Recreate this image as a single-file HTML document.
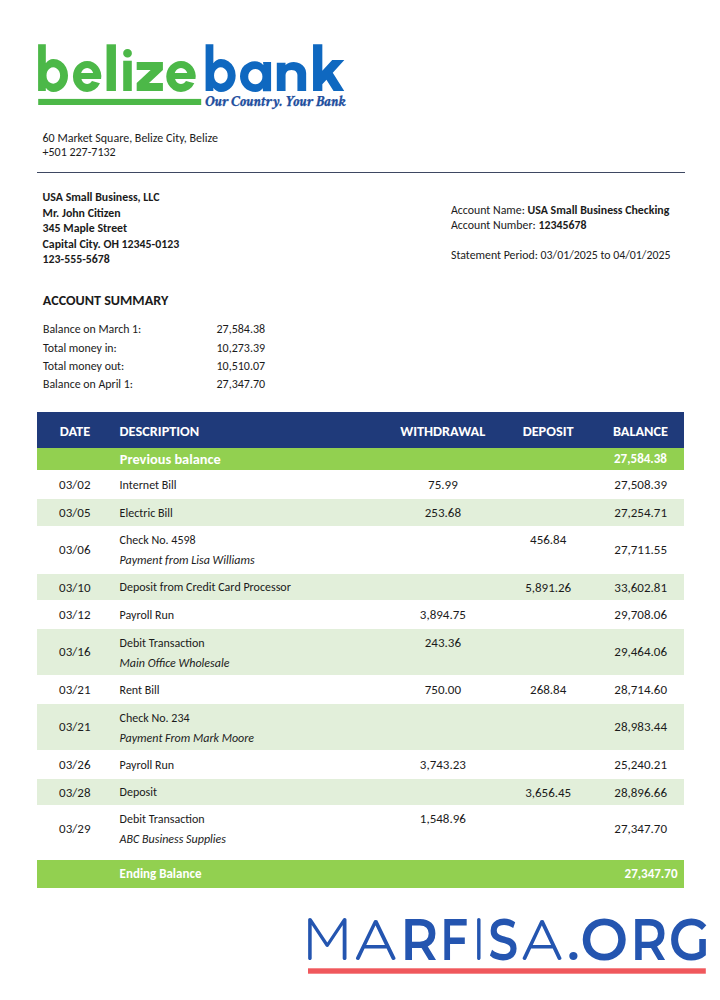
<!DOCTYPE html>
<html><head><meta charset="utf-8"><title>Belize Bank Statement</title>
<style>
html,body{margin:0;padding:0;background:#fff;}
body{width:720px;height:1000px;position:relative;overflow:hidden;font-family:"Carlito", "Liberation Sans", sans-serif;color:#1b1b1b;}
.r{position:absolute;}
.abs{position:absolute;}
</style></head><body>
<div class="r" style="left:36.5px;top:171.6px;width:648px;height:1.6px;background:#3e4862"></div>
<div class="r" style="left:37px;top:412px;width:647px;height:36px;background:#1f3a7a"></div>
<div class="r" style="left:37px;top:448px;width:647px;height:22px;background:#92d050"></div>
<div class="r" style="left:37px;top:499px;width:647px;height:27px;background:#e2efda"></div>
<div class="r" style="left:37px;top:574px;width:647px;height:26px;background:#e2efda"></div>
<div class="r" style="left:37px;top:629px;width:647px;height:46px;background:#e2efda"></div>
<div class="r" style="left:37px;top:704px;width:647px;height:46px;background:#e2efda"></div>
<div class="r" style="left:37px;top:779px;width:647px;height:26px;background:#e2efda"></div>
<div class="r" style="left:37px;top:860px;width:647px;height:27.5px;background:#92d050"></div>
<svg class="abs" width="720" height="1000" viewBox="0 0 720 1000" style="left:0;top:0">
<text fill="#4cb848"><tspan x="34.75" y="91.07" font-family="Urbanist, 'Liberation Sans', sans-serif" font-weight="800" font-size="61.96" textLength="34.96" lengthAdjust="spacingAndGlyphs">b</tspan><tspan x="71.20" y="91.13" font-family="Urbanist, 'Liberation Sans', sans-serif" font-weight="800" font-size="58.02" textLength="31.75" lengthAdjust="spacingAndGlyphs">e</tspan><tspan x="102.43" y="91.00" font-family="Urbanist, 'Liberation Sans', sans-serif" font-weight="800" font-size="61.46" textLength="17.51" lengthAdjust="spacingAndGlyphs">l</tspan><tspan x="119.49" y="91.00" font-family="Urbanist, 'Liberation Sans', sans-serif" font-weight="800" font-size="60.57" textLength="16.02" lengthAdjust="spacingAndGlyphs">i</tspan><tspan x="134.34" y="90.90" font-family="Urbanist, 'Liberation Sans', sans-serif" font-weight="800" font-size="57.40" textLength="31.13" lengthAdjust="spacingAndGlyphs">z</tspan><tspan x="164.64" y="91.13" font-family="Urbanist, 'Liberation Sans', sans-serif" font-weight="800" font-size="58.02" textLength="32.93" lengthAdjust="spacingAndGlyphs">e</tspan></text>
<text fill="#0f68c0"><tspan x="202.24" y="90.68" font-family="Urbanist, 'Liberation Sans', sans-serif" font-weight="800" font-size="61.31" textLength="35.08" lengthAdjust="spacingAndGlyphs">b</tspan><tspan x="238.26" y="91.14" font-family="Urbanist, 'Liberation Sans', sans-serif" font-weight="800" font-size="57.17" textLength="35.17" lengthAdjust="spacingAndGlyphs">a</tspan><tspan x="272.91" y="91.10" font-family="Urbanist, 'Liberation Sans', sans-serif" font-weight="800" font-size="57.09" textLength="35.69" lengthAdjust="spacingAndGlyphs">n</tspan><tspan x="309.06" y="91.10" font-family="Urbanist, 'Liberation Sans', sans-serif" font-weight="800" font-size="61.46" textLength="36.96" lengthAdjust="spacingAndGlyphs">k</tspan></text>
<rect x="38.2" y="98.9" width="163" height="6.1" fill="#4cb848"/>
<text x="205.0" y="106" font-family="Crimson Text, Liberation Serif, serif" font-weight="700" font-style="italic" font-size="16" fill="#1f4f9e" stroke="#1f4f9e" stroke-width="0.25" textLength="140.5" lengthAdjust="spacingAndGlyphs">Our Country. Your Bank</text>
<text fill="#2455b0"><tspan x="302.60" y="960.30" font-family="Quicksand, 'Liberation Sans', sans-serif" font-weight="450" font-size="58.30" textLength="49.62" lengthAdjust="spacingAndGlyphs">M</tspan><tspan x="354.12" y="960.30" font-family="Quicksand, 'Liberation Sans', sans-serif" font-weight="450" font-size="57.89" textLength="43.50" lengthAdjust="spacingAndGlyphs">A</tspan><tspan x="400.38" y="960.30" font-family="Montserrat, 'Liberation Sans', sans-serif" font-weight="630" font-size="58.71" textLength="37.53" lengthAdjust="spacingAndGlyphs">R</tspan><tspan x="440.27" y="960.30" font-family="Montserrat, 'Liberation Sans', sans-serif" font-weight="630" font-size="58.30" textLength="27.83" lengthAdjust="spacingAndGlyphs">F</tspan><tspan x="472.11" y="960.30" font-family="Quicksand, 'Liberation Sans', sans-serif" font-weight="450" font-size="58.30" textLength="13.58" lengthAdjust="spacingAndGlyphs">I</tspan><tspan x="488.33" y="960.41" font-family="Montserrat, 'Liberation Sans', sans-serif" font-weight="630" font-size="59.03" textLength="29.99" lengthAdjust="spacingAndGlyphs">S</tspan><tspan x="520.85" y="960.30" font-family="Quicksand, 'Liberation Sans', sans-serif" font-weight="450" font-size="57.89" textLength="42.63" lengthAdjust="spacingAndGlyphs">A</tspan><tspan x="567.19" y="960.06" font-family="Montserrat, 'Liberation Sans', sans-serif" font-weight="630" font-size="48.82" textLength="12.28" lengthAdjust="spacingAndGlyphs">.</tspan><tspan x="580.22" y="960.41" font-family="Montserrat, 'Liberation Sans', sans-serif" font-weight="630" font-size="59.03" textLength="47.97" lengthAdjust="spacingAndGlyphs">O</tspan><tspan x="630.50" y="960.30" font-family="Montserrat, 'Liberation Sans', sans-serif" font-weight="630" font-size="58.71" textLength="36.55" lengthAdjust="spacingAndGlyphs">R</tspan><tspan x="668.66" y="960.41" font-family="Montserrat, 'Liberation Sans', sans-serif" font-weight="630" font-size="59.03" textLength="41.21" lengthAdjust="spacingAndGlyphs">G</tspan></text>
<rect x="308" y="968.3" width="397.8" height="5.4" fill="#f0585c"/>
</svg>
<svg class="abs" width="720" height="1000" viewBox="0 0 720 1000" style="left:0;top:0" font-family='Carlito, "Liberation Sans", sans-serif' fill="#1b1b1b">
<text x="42.50" y="142" font-size="12" textLength="175.42" lengthAdjust="spacingAndGlyphs">60 Market Square, Belize City, Belize</text>
<text x="42.50" y="156" font-size="12" textLength="73.19" lengthAdjust="spacingAndGlyphs">+501 227-7132</text>
<text x="42.60" y="201" font-size="11.85" font-weight="700" textLength="116.89" lengthAdjust="spacingAndGlyphs">USA Small Business, LLC</text>
<text x="42.60" y="217" font-size="11.85" font-weight="700" textLength="77.97" lengthAdjust="spacingAndGlyphs">Mr. John Citizen</text>
<text x="42.60" y="232" font-size="11.85" font-weight="700" textLength="84.53" lengthAdjust="spacingAndGlyphs">345 Maple Street</text>
<text x="42.60" y="248" font-size="11.85" font-weight="700" textLength="136.62" lengthAdjust="spacingAndGlyphs">Capital City. OH 12345-0123</text>
<text x="42.60" y="263" font-size="11.85" font-weight="700" textLength="67.28" lengthAdjust="spacingAndGlyphs">123-555-5678</text>
<text x="451.00" y="214" font-size="11.85" textLength="218.33" lengthAdjust="spacingAndGlyphs">Account Name: <tspan font-weight="700">USA Small Business Checking</tspan></text>
<text x="451.00" y="229" font-size="11.85" textLength="135.45" lengthAdjust="spacingAndGlyphs">Account Number: <tspan font-weight="700">12345678</tspan></text>
<text x="451.00" y="259" font-size="11.85" textLength="219.41" lengthAdjust="spacingAndGlyphs">Statement Period: 03/01/2025 to 04/01/2025</text>
<text x="42.80" y="305" font-size="14.1" font-weight="700" textLength="125.41" lengthAdjust="spacingAndGlyphs">ACCOUNT SUMMARY</text>
<text x="43.00" y="333" font-size="11.85" textLength="98.30" lengthAdjust="spacingAndGlyphs">Balance on March 1:</text>
<text x="216.50" y="333" font-size="12" textLength="48.61" lengthAdjust="spacingAndGlyphs">27,584.38</text>
<text x="43.00" y="352" font-size="11.85" textLength="73.77" lengthAdjust="spacingAndGlyphs">Total money in:</text>
<text x="216.50" y="352" font-size="12" textLength="48.61" lengthAdjust="spacingAndGlyphs">10,273.39</text>
<text x="43.00" y="370" font-size="11.85" textLength="81.25" lengthAdjust="spacingAndGlyphs">Total money out:</text>
<text x="216.50" y="370" font-size="12" textLength="48.61" lengthAdjust="spacingAndGlyphs">10,510.07</text>
<text x="43.00" y="388" font-size="11.85" textLength="89.95" lengthAdjust="spacingAndGlyphs">Balance on April 1:</text>
<text x="216.50" y="388" font-size="12" textLength="48.61" lengthAdjust="spacingAndGlyphs">27,347.70</text>
<text x="75.00" y="436" font-size="14.3" font-weight="700" fill="#fff" text-anchor="middle" textLength="30.28" lengthAdjust="spacingAndGlyphs">DATE</text>
<text x="119.60" y="436" font-size="14.3" font-weight="700" fill="#fff" textLength="79.58" lengthAdjust="spacingAndGlyphs">DESCRIPTION</text>
<text x="442.70" y="436" font-size="14.3" font-weight="700" fill="#fff" text-anchor="middle" textLength="85.03" lengthAdjust="spacingAndGlyphs">WITHDRAWAL</text>
<text x="548.10" y="436" font-size="14.3" font-weight="700" fill="#fff" text-anchor="middle" textLength="50.92" lengthAdjust="spacingAndGlyphs">DEPOSIT</text>
<text x="640.50" y="436" font-size="14.3" font-weight="700" fill="#fff" text-anchor="middle" textLength="55.22" lengthAdjust="spacingAndGlyphs">BALANCE</text>
<text x="119.80" y="464" font-size="14.4" font-weight="700" fill="#fff" textLength="101.05" lengthAdjust="spacingAndGlyphs">Previous balance</text>
<text x="640.50" y="463" font-size="13" font-weight="700" fill="#fff" text-anchor="middle" textLength="52.95" lengthAdjust="spacingAndGlyphs">27,584.38</text>
<text x="74.80" y="489" font-size="13" text-anchor="middle" textLength="31.39" lengthAdjust="spacingAndGlyphs">03/02</text>
<text x="119.60" y="489" font-size="12" textLength="57.00" lengthAdjust="spacingAndGlyphs">Internet Bill</text>
<text x="442.90" y="489" font-size="13" text-anchor="middle" textLength="29.64" lengthAdjust="spacingAndGlyphs">75.99</text>
<text x="640.70" y="489" font-size="13" text-anchor="middle" textLength="52.66" lengthAdjust="spacingAndGlyphs">27,508.39</text>
<text x="74.80" y="517" font-size="13" text-anchor="middle" textLength="31.39" lengthAdjust="spacingAndGlyphs">03/05</text>
<text x="119.60" y="517" font-size="12" textLength="53.20" lengthAdjust="spacingAndGlyphs">Electric Bill</text>
<text x="442.90" y="517" font-size="13" text-anchor="middle" textLength="36.23" lengthAdjust="spacingAndGlyphs">253.68</text>
<text x="640.70" y="517" font-size="13" text-anchor="middle" textLength="52.66" lengthAdjust="spacingAndGlyphs">27,254.71</text>
<text x="74.80" y="554" font-size="13" text-anchor="middle" textLength="31.39" lengthAdjust="spacingAndGlyphs">03/06</text>
<text x="119.60" y="544" font-size="12" textLength="76.06" lengthAdjust="spacingAndGlyphs">Check No. 4598</text>
<text x="119.60" y="564" font-size="12" font-style="italic" textLength="135.05" lengthAdjust="spacingAndGlyphs">Payment from Lisa Williams</text>
<text x="548.20" y="544" font-size="13" text-anchor="middle" textLength="36.23" lengthAdjust="spacingAndGlyphs">456.84</text>
<text x="640.70" y="554" font-size="13" text-anchor="middle" textLength="52.66" lengthAdjust="spacingAndGlyphs">27,711.55</text>
<text x="74.80" y="592" font-size="13" text-anchor="middle" textLength="31.39" lengthAdjust="spacingAndGlyphs">03/10</text>
<text x="119.60" y="591" font-size="12" textLength="171.28" lengthAdjust="spacingAndGlyphs">Deposit from Credit Card Processor</text>
<text x="548.20" y="592" font-size="13" text-anchor="middle" textLength="46.06" lengthAdjust="spacingAndGlyphs">5,891.26</text>
<text x="640.70" y="592" font-size="13" text-anchor="middle" textLength="52.66" lengthAdjust="spacingAndGlyphs">33,602.81</text>
<text x="74.80" y="619" font-size="13" text-anchor="middle" textLength="31.39" lengthAdjust="spacingAndGlyphs">03/12</text>
<text x="119.60" y="619" font-size="12" textLength="54.56" lengthAdjust="spacingAndGlyphs">Payroll Run</text>
<text x="442.90" y="619" font-size="13" text-anchor="middle" textLength="46.06" lengthAdjust="spacingAndGlyphs">3,894.75</text>
<text x="640.70" y="619" font-size="13" text-anchor="middle" textLength="52.66" lengthAdjust="spacingAndGlyphs">29,708.06</text>
<text x="74.80" y="656" font-size="13" text-anchor="middle" textLength="31.39" lengthAdjust="spacingAndGlyphs">03/16</text>
<text x="119.60" y="647" font-size="12" textLength="85.08" lengthAdjust="spacingAndGlyphs">Debit Transaction</text>
<text x="119.60" y="667" font-size="12" font-style="italic" textLength="109.80" lengthAdjust="spacingAndGlyphs">Main Office Wholesale</text>
<text x="442.90" y="647" font-size="13" text-anchor="middle" textLength="36.23" lengthAdjust="spacingAndGlyphs">243.36</text>
<text x="640.70" y="656" font-size="13" text-anchor="middle" textLength="52.66" lengthAdjust="spacingAndGlyphs">29,464.06</text>
<text x="74.80" y="694" font-size="13" text-anchor="middle" textLength="31.39" lengthAdjust="spacingAndGlyphs">03/21</text>
<text x="119.60" y="694" font-size="12" textLength="40.00" lengthAdjust="spacingAndGlyphs">Rent Bill</text>
<text x="442.90" y="694" font-size="13" text-anchor="middle" textLength="36.23" lengthAdjust="spacingAndGlyphs">750.00</text>
<text x="548.20" y="694" font-size="13" text-anchor="middle" textLength="36.23" lengthAdjust="spacingAndGlyphs">268.84</text>
<text x="640.70" y="694" font-size="13" text-anchor="middle" textLength="52.66" lengthAdjust="spacingAndGlyphs">28,714.60</text>
<text x="74.80" y="731" font-size="13" text-anchor="middle" textLength="31.39" lengthAdjust="spacingAndGlyphs">03/21</text>
<text x="119.60" y="722" font-size="12" textLength="69.98" lengthAdjust="spacingAndGlyphs">Check No. 234</text>
<text x="119.60" y="742" font-size="12" font-style="italic" textLength="134.50" lengthAdjust="spacingAndGlyphs">Payment From Mark Moore</text>
<text x="640.70" y="731" font-size="13" text-anchor="middle" textLength="52.66" lengthAdjust="spacingAndGlyphs">28,983.44</text>
<text x="74.80" y="769" font-size="13" text-anchor="middle" textLength="31.39" lengthAdjust="spacingAndGlyphs">03/26</text>
<text x="119.60" y="769" font-size="12" textLength="54.56" lengthAdjust="spacingAndGlyphs">Payroll Run</text>
<text x="442.90" y="769" font-size="13" text-anchor="middle" textLength="46.06" lengthAdjust="spacingAndGlyphs">3,743.23</text>
<text x="640.70" y="769" font-size="13" text-anchor="middle" textLength="52.66" lengthAdjust="spacingAndGlyphs">25,240.21</text>
<text x="74.80" y="797" font-size="13" text-anchor="middle" textLength="31.39" lengthAdjust="spacingAndGlyphs">03/28</text>
<text x="119.60" y="796" font-size="12" textLength="37.45" lengthAdjust="spacingAndGlyphs">Deposit</text>
<text x="548.20" y="797" font-size="13" text-anchor="middle" textLength="46.06" lengthAdjust="spacingAndGlyphs">3,656.45</text>
<text x="640.70" y="797" font-size="13" text-anchor="middle" textLength="52.66" lengthAdjust="spacingAndGlyphs">28,896.66</text>
<text x="74.80" y="833" font-size="13" text-anchor="middle" textLength="31.39" lengthAdjust="spacingAndGlyphs">03/29</text>
<text x="119.60" y="823" font-size="12" textLength="85.08" lengthAdjust="spacingAndGlyphs">Debit Transaction</text>
<text x="119.60" y="843" font-size="12" font-style="italic" textLength="106.38" lengthAdjust="spacingAndGlyphs">ABC Business Supplies</text>
<text x="442.90" y="823" font-size="13" text-anchor="middle" textLength="46.06" lengthAdjust="spacingAndGlyphs">1,548.96</text>
<text x="640.70" y="833" font-size="13" text-anchor="middle" textLength="52.66" lengthAdjust="spacingAndGlyphs">27,347.70</text>
<text x="119.60" y="878" font-size="13" font-weight="700" fill="#fff" textLength="81.84" lengthAdjust="spacingAndGlyphs">Ending Balance</text>
<text x="677.50" y="878" font-size="13" font-weight="700" fill="#fff" text-anchor="end" textLength="52.95" lengthAdjust="spacingAndGlyphs">27,347.70</text>
</svg>
</body></html>
